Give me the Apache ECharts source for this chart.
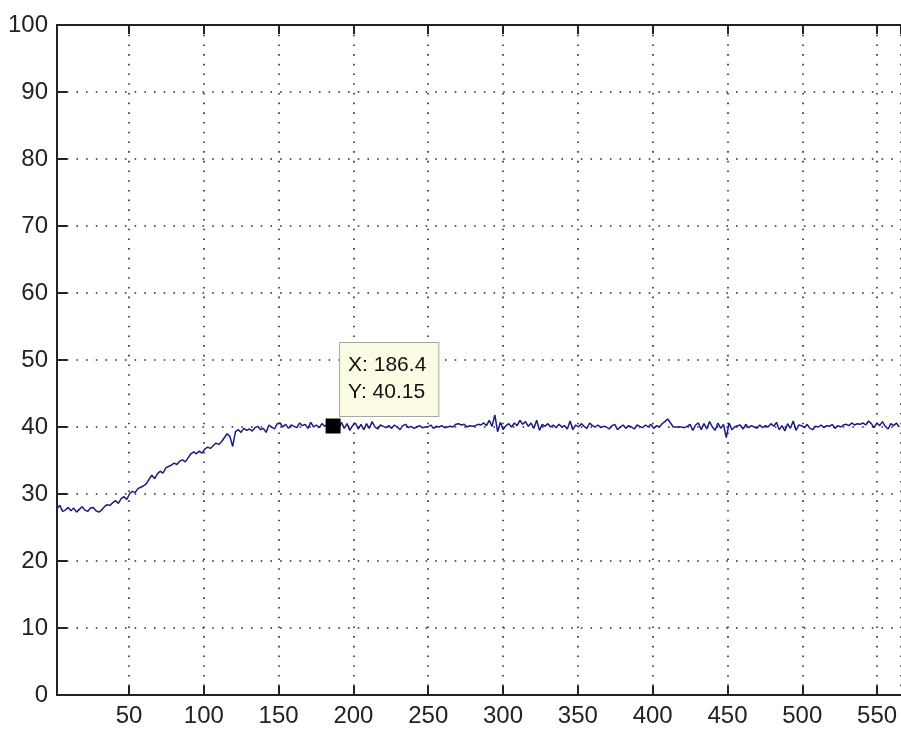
<!DOCTYPE html>
<html>
<head>
<meta charset="utf-8">
<script src="https://cdn.jsdelivr.net/npm/echarts@6/dist/echarts.min.js"></script>
<style>
  html, body { margin: 0; padding: 0; background: #fff; }
  #chart { width: 901px; height: 729px; }
</style>
</head>
<body>
<div id="chart"></div>
<script>
// Sampled signal: one reading every sampleStep units along x, starting at sampleStep
const sampleStep = 1.864;
const signal = [
  27.8, 28.3, 27.4, 27.6, 28.0, 27.5, 27.9, 27.3, 27.7, 28.1,
  27.6, 27.4, 27.9, 28.0, 27.5, 27.3, 27.6, 28.1, 28.4, 28.3,
  28.7, 29.0, 28.6, 29.3, 29.6, 29.2, 30.0, 30.4, 30.2, 30.8,
  31.0, 31.2, 31.5, 32.2, 32.8, 32.3, 33.0, 33.4, 33.1, 33.9,
  34.1, 34.3, 34.6, 34.4, 34.9, 35.1, 34.8, 35.4, 36.0, 36.3,
  36.0, 36.4, 36.1, 36.7, 37.0, 36.8, 37.2, 37.6, 37.4, 37.8,
  38.4, 39.0, 38.6, 37.1, 39.3, 39.6, 39.2, 39.8, 39.5, 39.7,
  39.4, 39.9, 40.1, 39.6, 39.8, 39.2, 40.3, 40.0, 39.7, 40.5,
  40.6, 40.0, 40.4, 39.8, 40.3, 40.1, 39.9, 40.6, 40.2, 40.4,
  39.8, 40.7, 40.0, 40.3, 39.9, 40.5, 40.1, 40.4, 39.9, 40.15,
  40.4, 39.6, 40.7, 39.8, 40.5, 39.5, 40.2, 40.6, 39.7, 40.4,
  39.6, 40.5, 39.8, 40.8, 40.0, 39.7, 40.3, 40.1, 39.9, 40.2,
  39.8, 40.3, 40.0, 39.6, 40.2, 40.4, 39.9, 40.1, 39.8, 40.0,
  40.2, 39.9, 40.0, 40.0, 40.3, 39.8, 40.1, 40.0, 40.2, 39.9,
  40.0, 40.1, 40.0, 40.4, 40.5, 40.3, 40.4, 40.0, 40.2, 40.1,
  40.2, 40.4, 40.3, 40.6, 40.2, 41.0, 40.1, 41.8, 39.3, 40.7,
  39.6, 40.2, 40.5, 40.0, 40.6, 40.2, 41.0, 40.4, 40.8, 40.1,
  40.6, 39.8, 41.0, 39.5, 40.4, 40.1, 40.5, 40.0, 40.3, 39.9,
  40.4, 40.0, 40.2, 39.7, 40.9, 39.6, 40.3, 40.0, 40.5, 40.1,
  39.8, 40.6, 40.2, 40.0, 40.3, 39.9, 40.1, 40.0, 39.7, 40.2,
  40.4, 39.6, 40.0, 40.3, 39.8, 40.2, 40.0, 39.7, 40.3, 40.1,
  39.9, 40.3, 40.0, 40.4, 39.8, 40.2, 40.0, 40.5, 40.8, 41.2,
  40.6, 40.0, 40.0, 40.0, 40.0, 39.9, 40.1, 40.4, 39.5, 40.3,
  40.6, 39.6, 40.5, 39.7, 40.8, 40.0, 39.5, 40.6, 39.8, 40.4,
  38.4, 40.6, 39.6, 40.0, 40.2, 40.3, 39.7, 40.4, 39.9, 40.2,
  40.0, 39.8, 40.3, 39.9, 40.2, 40.0, 40.5, 40.1, 40.7, 39.6,
  40.2, 39.4, 40.5, 39.8, 40.9, 39.5, 40.3, 40.2, 39.9, 40.4,
  39.8, 39.6, 40.1, 40.0, 40.3, 39.9, 40.2, 40.1, 40.4, 39.8,
  40.2, 40.0, 40.3, 40.4, 40.2, 40.6, 40.3, 40.5, 40.4, 40.6,
  40.3, 40.9, 40.5, 39.9, 40.6, 40.2, 40.8, 40.1, 39.7, 40.5,
  40.2, 40.6, 40.0
];

// Data cursor pinned on the curve
const cursorPoint = [186.4, 40.15];

// Axis ranges and tick labels
const xRange = [1.864, 566];
const xTickLabels = [50, 100, 150, 200, 250, 300, 350, 400, 450, 500, 550];
const yTickLabels = [0, 10, 20, 30, 40, 50, 60, 70, 80, 90, 100];

const lineData = signal.map((v, i) => [+(sampleStep * (i + 1)).toFixed(3), v]);

const font = "'Liberation Sans', Arial, sans-serif";
const ink = '#222';
const dotted = { color: '#2a2a2a', width: 1.6, type: [1.6, 8.1] };

const chart = echarts.init(document.getElementById('chart'), null, { renderer: 'canvas' });

chart.setOption({
  animation: false,
  backgroundColor: '#fff',
  grid: { left: 57, top: 25, right: 0, bottom: 34, containLabel: false },
  xAxis: [
    {
      type: 'value',
      position: 'bottom',
      min: xRange[0],
      max: xRange[1],
      minInterval: 50,
      maxInterval: 50,
      axisLine: { show: true, onZero: false, lineStyle: { color: ink, width: 2 } },
      axisTick: { show: true, inside: true, length: 9, lineStyle: { color: ink, width: 2 } },
      axisLabel: {
        color: ink, fontSize: 24, fontFamily: font, margin: 9,
        showMinLabel: false, showMaxLabel: false,
        formatter: v => (xTickLabels.indexOf(Math.round(v)) >= 0 && Math.abs(v - Math.round(v)) < 1e-6) ? String(Math.round(v)) : ''
      },
      splitLine: { show: true, lineStyle: dotted }
    },
    {
      type: 'value',
      position: 'top',
      min: xRange[0],
      max: xRange[1],
      minInterval: 50,
      maxInterval: 50,
      axisLine: { show: true, onZero: false, lineStyle: { color: ink, width: 2 } },
      axisTick: { show: true, inside: true, length: 9, lineStyle: { color: ink, width: 2 } },
      axisLabel: { show: false },
      splitLine: { show: false }
    }
  ],
  yAxis: {
    type: 'value',
    min: yTickLabels[0],
    max: yTickLabels[yTickLabels.length - 1],
    interval: 10,
    axisLine: { show: true, onZero: false, lineStyle: { color: ink, width: 2 } },
    axisTick: { show: true, inside: true, length: 10, lineStyle: { color: ink, width: 2 } },
    axisLabel: { color: ink, fontSize: 24, fontFamily: font, margin: 9 },
    splitLine: { show: true, lineStyle: dotted }
  },
  series: [
    {
      type: 'line',
      data: lineData,
      showSymbol: false,
      symbol: 'none',
      lineStyle: { color: '#1c1c80', width: 1.5 },
      z: 3
    },
    {
      type: 'scatter',
      data: [cursorPoint],
      symbol: 'rect',
      symbolSize: 15,
      itemStyle: { color: '#000', opacity: 1 },
      z: 5,
      label: {
        show: true,
        position: [14.5, -75.5],
        align: 'left',
        verticalAlign: 'top',
        formatter: p => 'X: ' + p.value[0] + '\nY: ' + p.value[1],
        fontFamily: font,
        fontSize: 21,
        lineHeight: 27,
        color: '#111',
        backgroundColor: '#fcfce4',
        borderColor: '#a8a8a0',
        borderWidth: 1,
        padding: [9, 12, 10, 8]
      }
    }
  ]
});
</script>
</body>
</html>
